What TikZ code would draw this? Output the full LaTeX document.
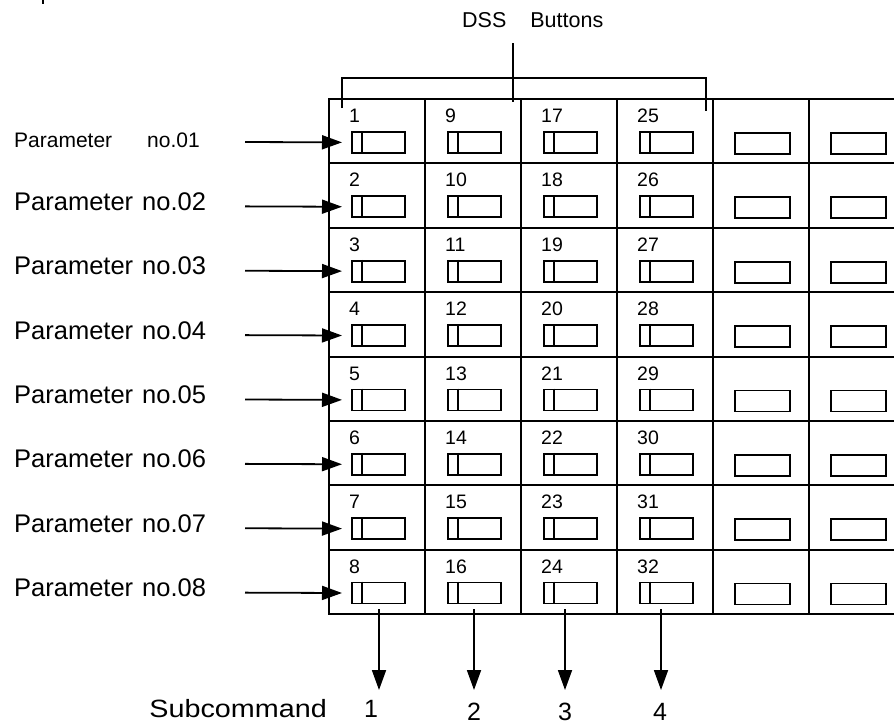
\documentclass[tikz,border=0pt]{standalone}
\usepackage{fontspec}
\setmainfont{Liberation Sans}
\usetikzlibrary{arrows.meta}
\begin{document}
\begin{tikzpicture}[x=1pt,y=-1pt,
  gridline/.style={line width=2pt},
  outerline/.style={line width=2.6pt},
  btn/.style={draw, line width=1.8pt, minimum width=53pt, minimum height=21pt, inner sep=0pt, anchor=north west},
  btnwide/.style={draw, line width=1.8pt, minimum width=55pt, minimum height=21pt, inner sep=0pt, anchor=north west},
  num/.style={font=\fontsize{19.5}{19.5}\selectfont, anchor=base west, inner sep=0pt},
  plabel/.style={font=\fontsize{25.5}{25.5}\selectfont, anchor=base west, inner sep=0pt},
  sub/.style={font=\fontsize{25}{25}\selectfont, anchor=base, inner sep=0pt},
  arr/.style={line width=1.8pt, -{Triangle[length=20pt,width=14pt]}},
  bracket/.style={line width=2pt},
]
\useasboundingbox (0,0) rectangle (894,724);

% fragment at top left
\draw[line width=2pt] (43,0) -- (43,4);

% grid
\foreach \i in {1,...,7} {
  \draw[gridline] (329,{99+64.375*\i}) -- (894,{99+64.375*\i});
}
\foreach \x in {425,521,617,713,809} {
  \draw[gridline] (\x,99) -- (\x,614);
}
\draw[outerline] (894,99) -- (329,99) -- (329,614) -- (894,614);

% numbered buttons (columns 1-4)
\foreach \c in {0,...,3} {
  \foreach \r in {0,...,7} {
    \pgfmathtruncatemacro\n{8*\c+\r+1}
    \node[num] (n\c\r) at ({329+96*\c+20},{99+64.375*\r+23.5}) {\n};
    \node[btn] (b\c\r) at ({329+96*\c+22},{99+64.375*\r+32}) {};
    \draw[line width=1.5pt] ([xshift=11pt]b\c\r.north west) -- ([xshift=11pt]b\c\r.south west);
  }
}
% plain buttons (columns 5-6)
\foreach \c in {4,5} {
  \foreach \r in {0,...,7} {
    \node[btnwide] (b\c\r) at ({329+96*\c+21},{99+64.375*\r+33}) {};
  }
}

% DSS Buttons bracket
\node[font=\fontsize{21.5}{21.5}\selectfont, anchor=base west, inner sep=0pt] (dss) at (462,27) {DSS\hspace{24pt}Buttons};
\coordinate (brtop) at (513,43);
\coordinate (brbot) at (513,102);
\coordinate (brl) at (342,108);
\coordinate (brr) at (706,111);
\draw[bracket] (brl) -- (brl |- 0,78) -- (brr |- 0,78) -- (brr);
\draw[bracket] (brtop) -- (brbot);

% parameter labels and arrows
\node[font=\fontsize{21}{21}\selectfont, anchor=base west, inner sep=0pt] (p0) at (14,147) {Parameter\hspace{35pt}no.01};
\foreach \r in {1,...,7} {
  \pgfmathtruncatemacro\k{\r+1}
  \node[plabel] (p\r) at (14,{99+64.375*\r+47}) {Parameter\hspace{9pt}no.0\k};
}
\foreach \r in {0,...,7} {
  \coordinate (s\r) at (245,{99+64.375*\r+43});
  \draw[arr, shorten >=9pt] (s\r) -- (b0\r.west);
}

% subcommand arrows
\coordinate (e0) at (379,690);
\coordinate (e1) at (474,690);
\coordinate (e2) at (565,690);
\coordinate (e3) at (661,690);
\foreach \c in {0,...,3} {
  \draw[arr] (e\c |- b\c7.south) ++(0,5) -- (e\c);
}
\node[sub, anchor=base east] (subc) at (327,717) {\scalebox{1.15}[1]{Subcommand}};
\node[sub] (m1) at (371,717) {1};
\node[sub] (m2) at (474,720) {2};
\node[sub] (m3) at (565,720) {3};
\node[sub] (m4) at (660,720) {4};
\end{tikzpicture}
\end{document}
